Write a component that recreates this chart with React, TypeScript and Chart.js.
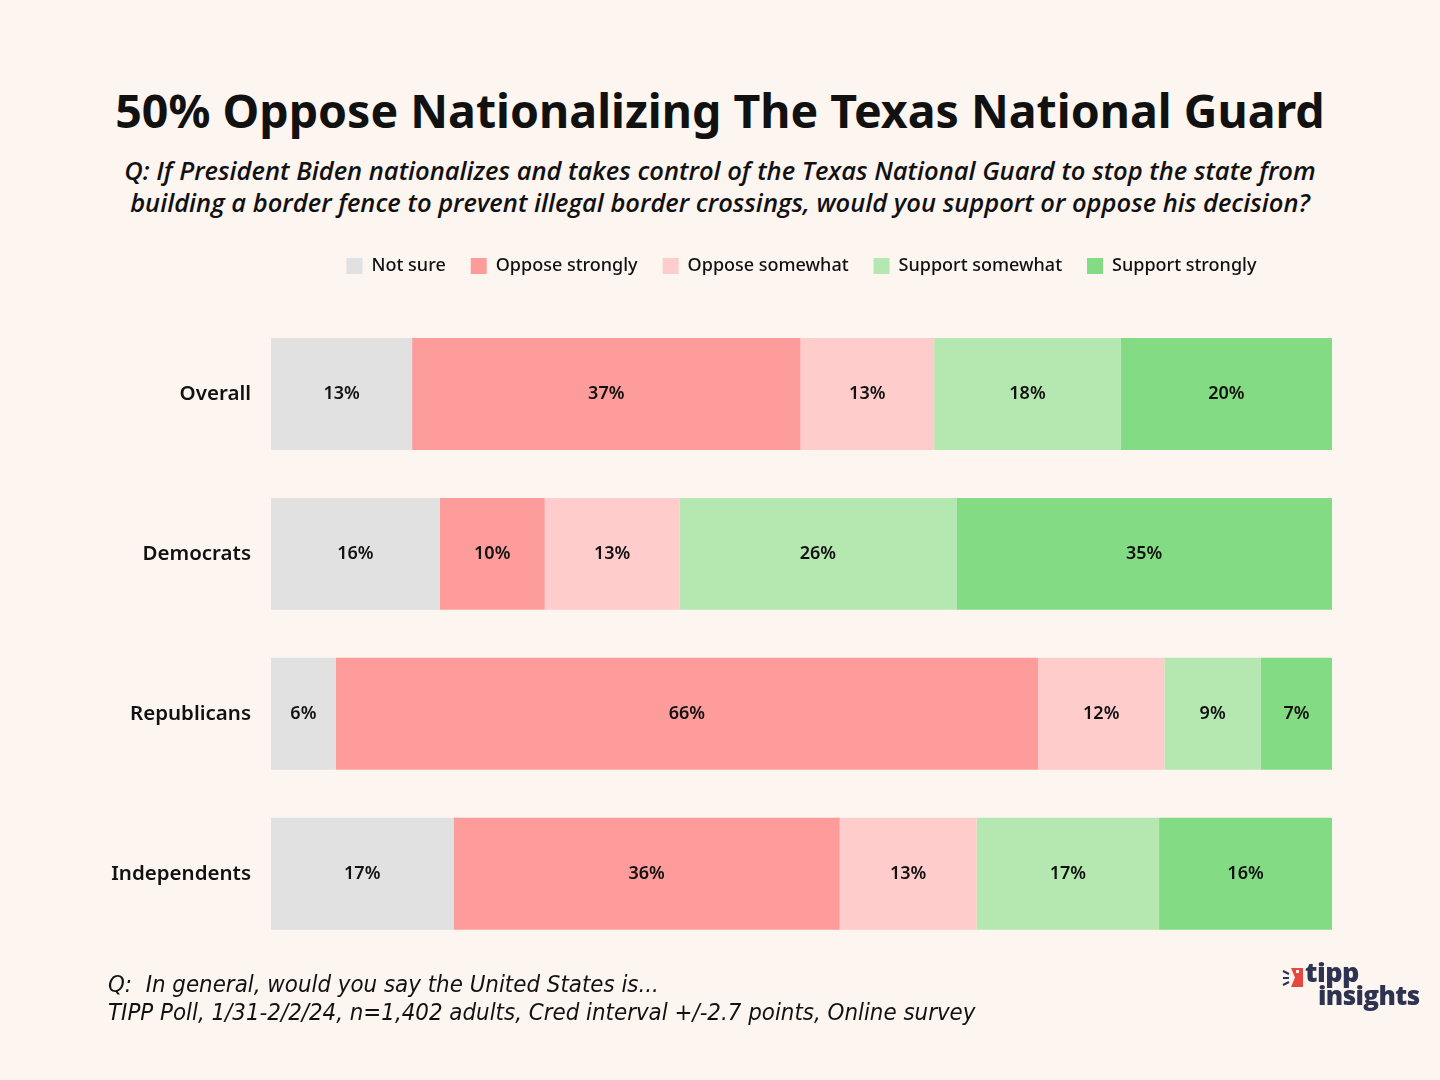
import React, { useEffect, useRef } from "react";
import { Chart, registerables } from "chart.js";

Chart.register(...registerables);

const categories = ["Overall", "Democrats", "Republicans", "Independents"];
const seriesNames = ["Not sure", "Oppose strongly", "Oppose somewhat", "Support somewhat", "Support strongly"];
const notSure = [13.3, 15.9, 6.1, 17.2];
const opposeStrongly = [36.6, 9.9, 66.2, 36.4];
const opposeSomewhat = [12.6, 12.7, 11.9, 12.9];
const supportSomewhat = [17.6, 26.1, 9.1, 17.2];
const supportStrongly = [19.9, 35.4, 6.7, 16.3];
const seriesColors = ["#e1e1e1", "#fe9b9b", "#ffcccc", "#b5e8b0", "#83dc83"];

const BG = "#fdf5f0";

const barLabels = {
  id: "barLabels",
  afterDatasetsDraw(chart: any) {
    const ctx = chart.ctx;
    ctx.save();
    ctx.font = "600 18px 'Noto Sans', sans-serif";
    ctx.fillStyle = "#111";
    ctx.textAlign = "center";
    ctx.textBaseline = "middle";
    chart.data.datasets.forEach((ds: any, di: number) => {
      const meta = chart.getDatasetMeta(di);
      meta.data.forEach((bar: any, i: number) => {
        const v = ds.data[i];
        const x = (bar.x + bar.base) / 2;
        ctx.fillText(Math.round(v) + "%", x, bar.y);
      });
    });
    ctx.restore();
  },
};

export default function App() {
  const ref = useRef<HTMLCanvasElement>(null);
  useEffect(() => {
    const values = [notSure, opposeStrongly, opposeSomewhat, supportSomewhat, supportStrongly];
    const chart = new Chart(ref.current!, {
      type: "bar",
      data: {
        labels: categories,
        datasets: seriesNames.map((name, i) => ({
          label: name,
          data: values[i],
          backgroundColor: seriesColors[i],
          borderWidth: 0,
          barPercentage: 0.7,
          categoryPercentage: 1,
        })),
      },
      options: {
        indexAxis: "y",
        animation: false,
        responsive: false,
        maintainAspectRatio: false,
        layout: { padding: { top: 10, right: 108, bottom: 0, left: 0 } },
        plugins: {
          legend: {
            position: "top",
            fullSize: false,
            labels: {
              boxWidth: 16,
              boxHeight: 16,
              padding: 25,
              color: "#111",
              font: { family: "'Noto Sans', sans-serif", size: 18, weight: "500" as any },
            },
          },
          tooltip: { enabled: false },
        },
        scales: {
          x: {
            stacked: true,
            min: 0,
            max: 100,
            position: "top",
            grid: { display: false },
            border: { display: false },
            ticks: { display: false },
            afterFit: (s: any) => {
              s.height = 29;
            },
          },
          y: {
            stacked: true,
            grid: { display: false },
            border: { display: false },
            ticks: {
              color: "#111",
              padding: 12,
              font: { family: "'Noto Sans', sans-serif", size: 20.5, weight: "600" as any },
            },
            afterFit: (s: any) => {
              s.width = 271;
            },
          },
        },
      },
      plugins: [barLabels],
    });
    return () => chart.destroy();
  }, []);

  return (
    <div
      style={{
        position: "absolute",
        left: 0,
        top: 0,
        width: 1440,
        height: 1080,
        background: BG,
        fontFamily: "'Noto Sans', sans-serif",
        color: "#111",
        overflow: "hidden",
      }}
    >
      <div
        style={{
          position: "absolute",
          top: 78,
          left: 0,
          width: 1440,
          textAlign: "center",
          fontSize: 46.5,
          fontWeight: 700,
          lineHeight: "64px",
        }}
      >
        50% Oppose Nationalizing The Texas National Guard
      </div>
      <div
        style={{
          position: "absolute",
          top: 154,
          left: 0,
          width: 1440,
          textAlign: "center",
          fontFamily: "'Open Sans', sans-serif",
          fontSize: 25.5,
          fontStyle: "italic",
          fontWeight: 600,
          lineHeight: "32px",
        }}
      >
        Q: If President Biden nationalizes and takes control of the Texas National Guard to stop the state from
        <br />
        building a border fence to prevent illegal border crossings, would you support or oppose his decision?
      </div>
      <canvas
        ref={ref}
        width={1440}
        height={756}
        style={{ position: "absolute", left: 0, top: 222, width: 1440, height: 756 }}
      />
      <div
        style={{
          position: "absolute",
          top: 970,
          left: 108,
          fontFamily: "'Liberation Sans Narrow', 'DejaVu Sans Condensed', sans-serif",
          fontStyle: "italic",
          fontSize: 23.8,
          lineHeight: "28px",
        }}
      >
        Q:&nbsp; In general, would you say the United States is...
        <br />
        TIPP Poll, 1/31-2/2/24, n=1,402 adults, Cred interval +/-2.7 points, Online survey
      </div>
      <div style={{ position: "absolute", left: 1282, top: 962, width: 150, height: 56 }}>
        <svg width="22" height="22" style={{ position: "absolute", left: 0, top: 5 }}>
          <line x1="1" y1="4" x2="7" y2="7" stroke="#2d3350" strokeWidth="2" />
          <line x1="1" y1="11" x2="7" y2="11" stroke="#2d3350" strokeWidth="2" />
          <line x1="1" y1="18" x2="7" y2="15" stroke="#2d3350" strokeWidth="2" />
          <polygon points="9,1 21,1 21,20 9,20 13,10.5" fill="#e8473f" />
          <rect x="14" y="3" width="3" height="3" fill="#fdf5f0" />
        </svg>
        <div
          style={{
            position: "absolute",
            left: 23,
            top: -5,
            fontFamily: "'Open Sans', sans-serif",
            fontWeight: 800,
            fontSize: 27,
            color: "#2d3350",
            lineHeight: "30px",
            letterSpacing: -0.5,
          }}
        >
          tipp
        </div>
        <div
          style={{
            position: "absolute",
            left: 36,
            top: 18,
            fontFamily: "'Open Sans', sans-serif",
            fontWeight: 800,
            fontSize: 26,
            color: "#2d3350",
            lineHeight: "30px",
            letterSpacing: -0.6,
          }}
        >
          insights
        </div>
      </div>
    </div>
  );
}
